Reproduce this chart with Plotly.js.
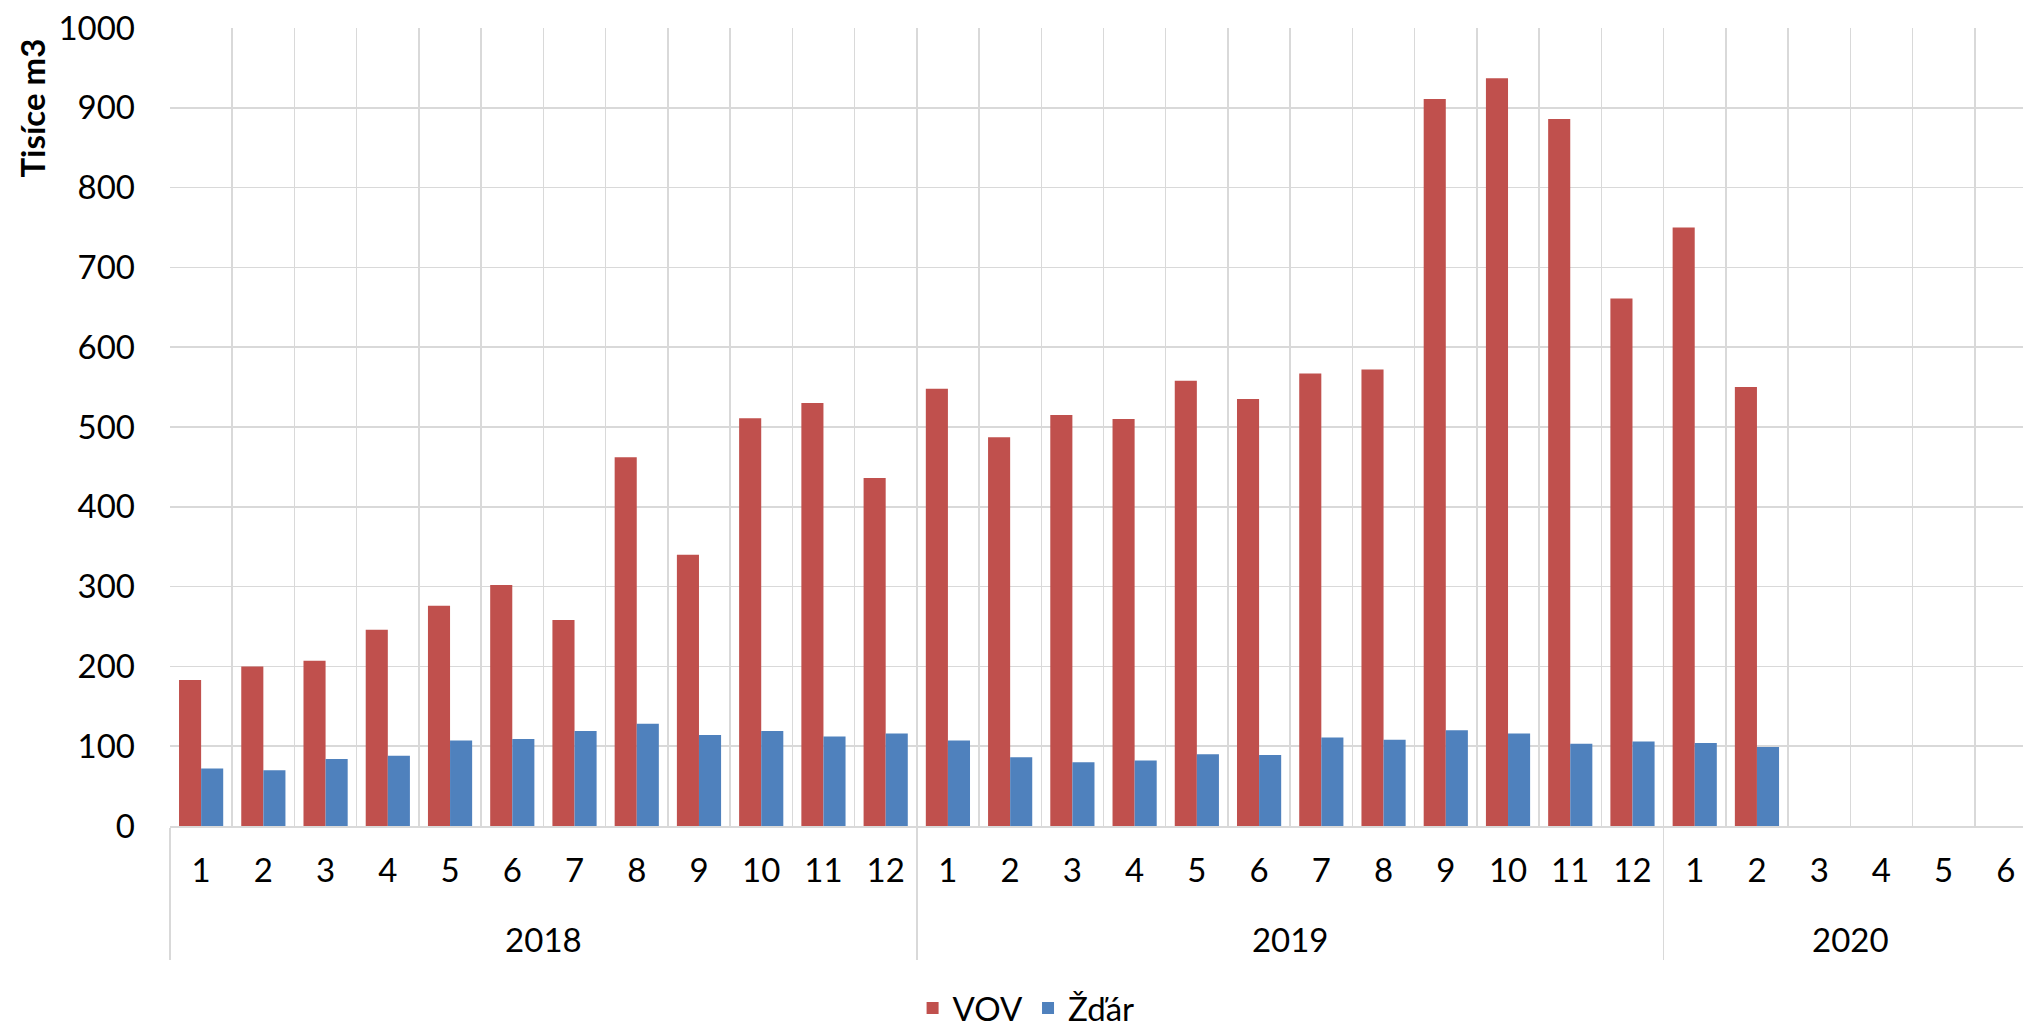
<!DOCTYPE html>
<html>
<head>
<meta charset="utf-8">
<script src="https://cdn.plot.ly/plotly-3.0.1.min.js"></script>
<style>
  html, body { margin: 0; padding: 0; overflow: hidden; background: #ffffff; }
  #chart { width: 2023px; height: 1027px; }
</style>
</head>
<body>
<div id="chart"></div>
<script>
// Category labels (two-level: year / month)
const yearLabels = [
  "2018","2018","2018","2018","2018","2018","2018","2018","2018","2018","2018","2018",
  "2019","2019","2019","2019","2019","2019","2019","2019","2019","2019","2019","2019",
  "2020","2020","2020","2020","2020","2020"
];
const monthLabels = [
  "1","2","3","4","5","6","7","8","9","10","11","12",
  "1","2","3","4","5","6","7","8","9","10","11","12",
  "1","2","3","4","5","6"
];

// Series values (thousand m3)
const vovValues = [
  183, 200, 207, 246, 276, 302, 258, 462, 340, 511, 530, 436,
  548, 487, 515, 510, 558, 535, 567, 572, 911, 937, 886, 661,
  750, 550, null, null, null, null
];
const zdarValues = [
  72, 70, 84, 88, 107, 109, 119, 128, 114, 119, 112, 116,
  107, 86, 80, 82, 90, 89, 111, 108, 120, 116, 103, 106,
  104, 99, null, null, null, null
];

const seriesNames = ["VOV", "Žďár"];
const yTickValues = [0, 100, 200, 300, 400, 500, 600, 700, 800, 900, 1000];

const FONT = "Lato, 'Open Sans', sans-serif";
const GRID = "#D9D9D9";

// month label plus an empty second line, which gives the year row its spacing
const monthDisplay = monthLabels.map(m => m + "<br>&nbsp;");

const traces = [
  {
    type: "bar",
    name: seriesNames[0],
    x: [yearLabels, monthDisplay],
    y: vovValues,
    marker: { color: "#C0504D", line: { width: 0 } },
    hoverinfo: "y"
  },
  {
    type: "bar",
    name: seriesNames[1],
    x: [yearLabels, monthDisplay],
    y: zdarValues,
    marker: { color: "#4F81BD", line: { width: 0 } },
    hoverinfo: "y"
  }
];

const layout = {
  width: 2023,
  height: 1027,
  paper_bgcolor: "#ffffff",
  plot_bgcolor: "#ffffff",
  margin: { l: 170, r: 0, t: 28, b: 201, autoexpand: false },
  barmode: "group",
  bargap: 0.29,
  bargroupgap: 0,
  font: { family: FONT, size: 33, color: "#000000" },
  xaxis: {
    type: "multicategory",
    range: [-0.5, 29.275],
    tickson: "boundaries",
    showgrid: true,
    gridcolor: GRID,
    gridwidth: 1.5,
    ticks: "",
    ticklabelstandoff: 15,
    showline: true,
    linecolor: GRID,
    linewidth: 1.5,
    showdividers: true,
    dividercolor: GRID,
    dividerwidth: 1.5,
    tickfont: { family: FONT, size: 33, color: "#000000" },
    fixedrange: true
  },
  yaxis: {
    range: [0, 1000],
    tickvals: yTickValues,
    showgrid: true,
    gridcolor: GRID,
    gridwidth: 1.5,
    zeroline: false,
    showline: false,
    ticks: "",
    ticklabelstandoff: 34,
    tickfont: { family: FONT, size: 33, color: "#000000" },
    fixedrange: true
  },
  legend: {
    orientation: "h",
    x: 0.462,
    xanchor: "center",
    y: -0.228,
    yanchor: "middle",
    font: { family: FONT, size: 33, color: "#000000" },
    bgcolor: "rgba(0,0,0,0)"
  },
  annotations: [
    {
      text: "<b>Tisíce m3</b>",
      xref: "paper",
      yref: "paper",
      x: -0.0747,
      y: 0.8997,
      xanchor: "center",
      yanchor: "middle",
      textangle: -90,
      showarrow: false,
      font: { family: FONT, size: 33, color: "#000000" }
    }
  ]
};

Plotly.newPlot("chart", traces, layout, { displayModeBar: false, staticPlot: true });
</script>
</body>
</html>
